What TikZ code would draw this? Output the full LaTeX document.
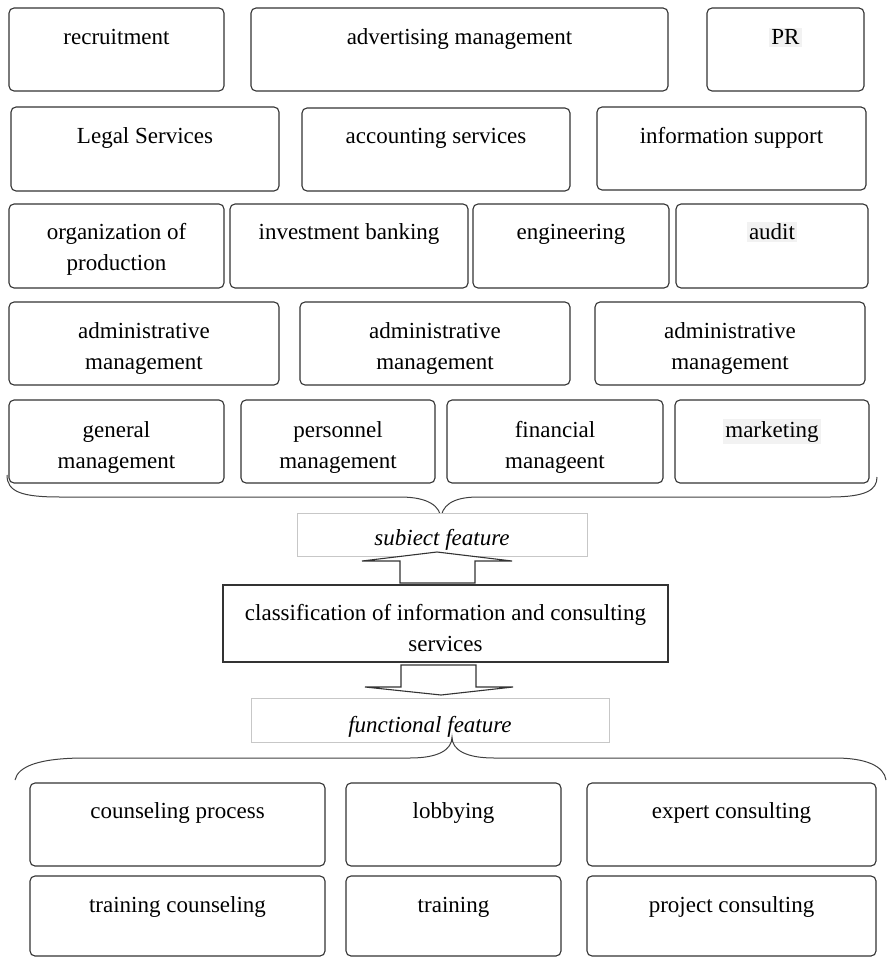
\documentclass[tikz,border=0pt]{standalone}
\usepackage{fontspec}
\setmainfont{Liberation Serif}
\usetikzlibrary{fit,calc}
\newcommand\lblfont{\fontsize{23}{31}\selectfont}
\begin{document}
\begin{tikzpicture}[x=1pt,y=-1pt,
  rbox/.style={draw=black!80, line width=1.1pt, rounded corners=5pt, fill=white, inner sep=0pt, outer sep=0pt},
  sbox/.style={draw=black!80, line width=1.1pt, fill=white, inner sep=0pt, outer sep=0pt},
  fbox/.style={draw=black!22, line width=1pt, fill=white, inner sep=0pt, outer sep=0pt},
  lbl/.style={font=\lblfont, anchor=base, inner sep=0pt, align=center, text=black},
  hl/.style={fill=black!5, inner sep=2pt},
  brace/.style={draw=black!75, line width=1pt},
  blockarrow/.style={draw=black!80, line width=1.1pt, fill=white, line join=miter}]
\useasboundingbox (0,0) rectangle (887,957);
\clip (0,0) rectangle (887,957);

% ---- subject-area services ----
\node[rbox, fit={(9,8) (224,91)}] (rec) {};
\node[rbox, fit={(251,8) (668,91)}] (adv) {};
\node[rbox, fit={(707,8) (864,91)}] (pr) {};

\node[rbox, fit={(11,107) (279,191)}] (legal) {};
\node[rbox, fit={(302,108) (570,191)}] (acct) {};
\node[rbox, fit={(597,107) (866,190)}] (info) {};

\node[rbox, fit={(9,204) (224,288)}] (org) {};
\node[rbox, fit={(230,204) (468,288)}] (inv) {};
\node[rbox, fit={(473,204) (669,288)}] (eng) {};
\node[rbox, fit={(676,204) (868,288)}] (aud) {};

\node[rbox, fit={(9,302) (279,385)}] (admA) {};
\node[rbox, fit={(300,302) (570,385)}] (admB) {};
\node[rbox, fit={(595,302) (865,385)}] (admC) {};

\node[rbox, fit={(9,400) (224,483)}] (gen) {};
\node[rbox, fit={(241,400) (435,483)}] (pers) {};
\node[rbox, fit={(447,400) (663,483)}] (fin) {};
\node[rbox, fit={(675,400) (869,483)}] (mkt) {};

% one-line labels sit on their baseline; two-line labels on the baseline of the last line
\node[lbl] (rec-t) at ([yshift=-37pt]rec.north) {recruitment};
\node[lbl] (adv-t) at ([yshift=-37pt]adv.north) {advertising management};
\node[lbl, hl] (pr-t) at ([yshift=-37pt]pr.north) {PR};
\node[lbl] (legal-t) at ([yshift=-37pt]legal.north) {Legal Services};
\node[lbl] (acct-t) at ([yshift=-36pt]acct.north) {accounting services};
\node[lbl] (info-t) at ([yshift=-37pt]info.north) {information support};
\node[lbl] (org-t) at ([yshift=-67pt]org.north) {organization of\\production};
\node[lbl] (inv-t) at ([yshift=-36pt]inv.north) {investment banking};
\node[lbl] (eng-t) at ([yshift=-36pt]eng.north) {engineering};
\node[lbl, hl] (aud-t) at ([yshift=-36pt]aud.north) {audit};
\node[lbl] (admA-t) at ([yshift=-67pt]admA.north) {administrative\\management};
\node[lbl] (admB-t) at ([yshift=-67pt]admB.north) {administrative\\management};
\node[lbl] (admC-t) at ([yshift=-67pt]admC.north) {administrative\\management};
\node[lbl] (gen-t) at ([yshift=-68pt]gen.north) {general\\management};
\node[lbl] (pers-t) at ([yshift=-68pt]pers.north) {personnel\\management};
\node[lbl] (fin-t) at ([yshift=-68pt]fin.north) {financial\\manageent};
\node[lbl, hl] (mkt-t) at ([yshift=-37pt]mkt.north) {marketing};

% brace over the subject-area group
\draw[brace] (7,475) .. controls (7,492) and (22,497) .. (60,497)
  -- (400,497) .. controls (428,497) and (441,506) .. (441,520)
  .. controls (441,506) and (452,497) .. (478,497)
  -- (830,497) .. controls (866,497) and (877,490) .. (877,477);

% ---- centre ----
\node[fbox, fit={(297,513) (587,556)}] (subj) {};
\node[lbl, font=\lblfont\itshape] (subj-t) at ([yshift=-32pt]subj.north) {subiect feature};

\node[sbox, fit={(223,585) (668,662)}] (cls) {};
\node[lbl] (cls-t) at ([yshift=-66pt]cls.north) {classification of information and consulting\\services};

\node[fbox, fit={(251,698) (609,742)}] (func) {};
\node[lbl, font=\lblfont\itshape] (func-t) at ([yshift=-34pt]func.north) {functional feature};

% block arrows
\draw[blockarrow] (400,583) -- (400,561) -- (362,561) -- (437,552) -- (512,561)
  -- (475,561) -- (475,583) -- cycle;
\draw[blockarrow] (401,665) -- (401,687) -- (365,687) -- (441,695) -- (513,687)
  -- (476,687) -- (476,665) -- cycle;

% brace under the functional feature
\draw[brace] (15,780) .. controls (18,766) and (40,758) .. (85,758)
  -- (410,758) .. controls (438,758) and (452,750) .. (452,737)
  .. controls (452,750) and (466,758) .. (494,758)
  -- (835,758) .. controls (866,758) and (884,766) .. (886,780);

% ---- functional services ----
\node[rbox, fit={(30,783) (325,866)}] (couns) {};
\node[rbox, fit={(346,783) (561,866)}] (lobby) {};
\node[rbox, fit={(587,783) (876,866)}] (expert) {};
\node[rbox, fit={(30,876) (325,956)}] (trcouns) {};
\node[rbox, fit={(346,876) (561,956)}] (train) {};
\node[rbox, fit={(587,876) (876,956)}] (proj) {};

\node[lbl] (couns-t) at ([yshift=-35pt]couns.north) {counseling process};
\node[lbl] (lobby-t) at ([yshift=-35pt]lobby.north) {lobbying};
\node[lbl] (expert-t) at ([yshift=-35pt]expert.north) {expert consulting};
\node[lbl] (trcouns-t) at ([yshift=-36pt]trcouns.north) {training counseling};
\node[lbl] (train-t) at ([yshift=-36pt]train.north) {training};
\node[lbl] (proj-t) at ([yshift=-36pt]proj.north) {project consulting};
\end{tikzpicture}
\end{document}
